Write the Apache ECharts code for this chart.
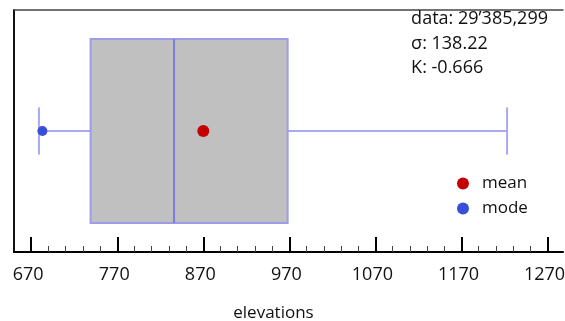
<!DOCTYPE html>
<html>
<head>
<meta charset="utf-8">
<script src="https://cdn.jsdelivr.net/npm/echarts@6/dist/echarts.min.js"></script>
<style>
  html, body { margin: 0; padding: 0; background: #fff; }
</style>
</head>
<body>
<div id="chart" style="width: 565px; height: 321px;"></div>
<script>
// values
const categories = ['elevations'];
const boxStats = [679, 739, 836, 968, 1223]; // whisker low, Q1, median, Q3, whisker high
const meanValue = [870];
const modeValue = [683];
const statLabels = ['data', 'σ', 'K'];
const statValues = ['29’385,299', '138.22', '-0.666'];
const majorTicks = [670, 770, 870, 970, 1070, 1170, 1270];
const minorTicks = [690, 710, 730, 750, 790, 810, 830, 850, 890, 910, 930, 950,
  990, 1010, 1030, 1050, 1090, 1110, 1130, 1150, 1190, 1210, 1230, 1250];

const font = 'Open Sans';
const axisMin = 650;
const axisMax = 1288;
const chart = echarts.init(document.getElementById('chart'));

const boxData = categories.map(function (c, i) {
  return [i].concat(boxStats);
});

chart.setOption({
  animation: false,
  title: {
    text: statLabels.map(function (l, i) { return l + ': ' + statValues[i]; }).join('\n'),
    right: 12,
    top: 2,
    textStyle: { fontFamily: font, fontSize: 18, fontWeight: 'normal', color: '#111', lineHeight: 24.5 }
  },
  legend: {
    data: ['mean', 'mode'],
    orient: 'vertical',
    left: 452,
    top: 170,
    icon: 'circle',
    itemWidth: 12,
    itemHeight: 12,
    itemGap: 8,
    textStyle: { fontFamily: font, fontSize: 17, color: '#111', padding: [0, 0, 0, 8] }
  },
  grid: {
    left: 14, right: 2, top: 10, bottom: 69,
    outerBoundsMode: 'none',
    containLabel: false,
    show: false
  },
  xAxis: [
    {
      type: 'value',
      min: axisMin,
      max: axisMax,
      position: 'bottom',
      name: 'elevations',
      nameLocation: 'middle',
      nameGap: 53,
      nameTextStyle: { fontFamily: font, fontSize: 17, color: '#111', padding: [0, 30, 0, 0] },
      axisLine: { show: true, lineStyle: { color: '#000', width: 2 } },
      axisTick: { show: true, inside: true, length: 15, lineStyle: { color: '#000', width: 2 }, customValues: majorTicks },
      axisLabel: {
        show: true,
        customValues: majorTicks,
        formatter: function (v) { return String(v); },
        margin: 14,
        padding: [0, 6, 0, 0],
        fontFamily: font,
        fontSize: 18,
        color: '#111'
      },
      splitLine: { show: false }
    },
    {
      type: 'value',
      min: axisMin,
      max: axisMax,
      position: 'bottom',
      axisLine: { show: false },
      axisTick: { show: true, inside: true, length: 6, lineStyle: { color: '#444', width: 1 }, customValues: minorTicks },
      axisLabel: { show: false },
      splitLine: { show: false }
    },
    {
      // top frame line
      type: 'value',
      min: axisMin,
      max: axisMax,
      position: 'top',
      axisLine: { show: true, lineStyle: { color: '#444', width: 1.5 } },
      axisTick: { show: false },
      axisLabel: { show: false },
      splitLine: { show: false }
    }
  ],
  yAxis: {
    type: 'category',
    data: categories,
    axisLine: { show: true, lineStyle: { color: '#111', width: 2 } },
    axisTick: { show: false },
    axisLabel: { show: false },
    splitLine: { show: false }
  },
  series: [
    {
      type: 'custom',
      name: 'box',
      xAxisIndex: 0,
      encode: { x: [1, 2, 3, 4, 5], y: 0 },
      data: boxData,
      renderItem: function (params, api) {
        const ci = api.value(0);
        const lo = api.coord([api.value(1), ci]);
        const q1 = api.coord([api.value(2), ci]);
        const md = api.coord([api.value(3), ci]);
        const q3 = api.coord([api.value(4), ci]);
        const hi = api.coord([api.value(5), ci]);
        const band = api.size([0, 1])[1];
        const boxH = band * 0.76;
        const capH = band * 0.195;
        const cy = lo[1];
        const whisker = { stroke: '#a9a9f2', lineWidth: 2 };
        return {
          type: 'group',
          children: [
            { type: 'line', shape: { x1: lo[0], y1: cy, x2: q1[0], y2: cy }, style: whisker },
            { type: 'line', shape: { x1: q3[0], y1: cy, x2: hi[0], y2: cy }, style: whisker },
            { type: 'line', shape: { x1: lo[0], y1: cy - capH / 2, x2: lo[0], y2: cy + capH / 2 }, style: whisker },
            { type: 'line', shape: { x1: hi[0], y1: cy - capH / 2, x2: hi[0], y2: cy + capH / 2 }, style: whisker },
            {
              type: 'rect',
              shape: { x: q1[0], y: cy - boxH / 2, width: q3[0] - q1[0], height: boxH },
              style: { fill: '#c0c0c0', stroke: '#9c9ce8', lineWidth: 2 }
            },
            { type: 'line', shape: { x1: md[0], y1: cy - boxH / 2, x2: md[0], y2: cy + boxH / 2 }, style: { stroke: '#7c7cd4', lineWidth: 2 } }
          ]
        };
      },
      z: 2
    },
    {
      type: 'scatter',
      name: 'mean',
      symbol: 'circle',
      symbolSize: 12,
      itemStyle: { color: '#c40000', opacity: 1 },
      data: meanValue.map(function (v, i) { return [v, categories[i]]; }),
      z: 5
    },
    {
      type: 'scatter',
      name: 'mode',
      symbol: 'circle',
      symbolSize: 10,
      itemStyle: { color: '#3a4fd8', opacity: 1 },
      data: modeValue.map(function (v, i) { return [v, categories[i]]; }),
      z: 5
    }
  ]
});
</script>
</body>
</html>
